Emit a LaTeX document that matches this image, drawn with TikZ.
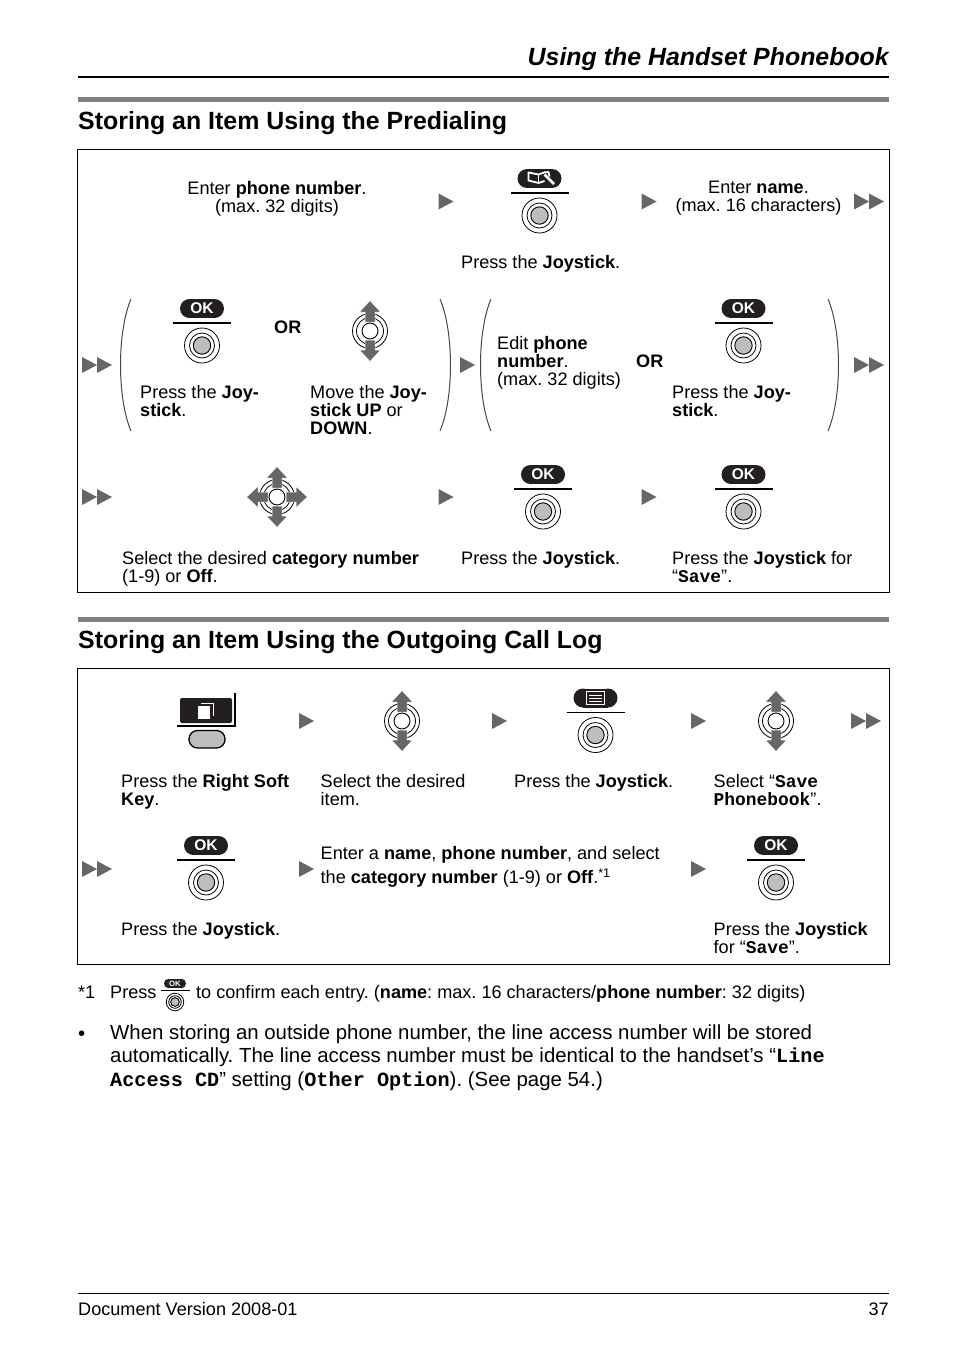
\documentclass[tikz,border=0pt]{standalone}
\usepackage{fontspec}
\setmainfont{Liberation Sans}
\setmonofont[Scale=.99]{Liberation Mono}
\usetikzlibrary{positioning}
\frenchspacing
\newcommand\scrtext[1]{\texttt{\bfseries #1}}
\definecolor{keydark}{HTML}{231F20}
\definecolor{arrowgray}{HTML}{666666}
\definecolor{bargray}{HTML}{808080}
\definecolor{keygray}{HTML}{BDBDBD}
\tikzset{
  pagetext/.style={font=\fontsize{18.1}{18}\selectfont, inner sep=0, align=left, anchor=north west,
      execute at begin node=\rule{0pt}{14pt}},
  centertext/.style={pagetext, align=center, anchor=north},
  ortext/.style={pagetext, font=\fontsize{18.1}{18}\bfseries\selectfont},
  bartitle/.style={font=\fontsize{24.9}{28}\bfseries\selectfont, inner sep=0, anchor=base west},
  bodytext/.style={pagetext, font=\fontsize{20.4}{23.4}\selectfont},
  framebox/.style={draw=black, line width=.8pt},
  keypill/.pic={
      \fill [keydark] (-12.5,0) circle (9.5);
      \fill [keydark] (12.5,0) circle (9.5);
      \fill [keydark] (-12.5,-9.5) rectangle (12.5,9.5);
    },
  nexttri/.pic={
      \fill [arrowgray] (-7.5,-8) -- (7.5,0) -- (-7.5,8) -- cycle;
    },
  nextdouble/.pic={
      \fill [arrowgray] (-15,-8) -- (0,0) -- (-15,8) -- cycle;
      \fill [arrowgray] (0,-8) -- (15,0) -- (0,8) -- cycle;
    },
  joybtn/.pic={
      \draw [line width=.8pt] (0,0) circle (17.5);
      \draw [line width=.8pt] (0,0) circle (12.5);
      \draw [line width=.9pt, fill=keygray] (0,0) circle (8.7);
    },
  softline/.pic={
      \draw [line width=1.3pt] (-29,14.5) -- (29,14.5);
      \pic at (0,37) {joybtn};
    },
  okkey/.pic={
      \pic at (0,0) {keypill};
      \node [white, font=\fontsize{15.5}{15.5}\bfseries\selectfont, inner sep=0, transform shape] (-oklabel) at (0,0) {OK};
      \pic at (0,0) {softline};
    },
  bookkey/.pic={
      \pic at (0,0) {keypill};
      \draw [white, line width=1.8pt, line join=round] (6,-6.5) -- (-1,-4) -- (-11,-6) -- (-11,2) -- (-1,4.5) -- (5,2.5);
      \draw [white, line width=1.6pt] (-1,-4) -- (-1,4.5);
      \draw [white, line width=1.8pt, line join=round] (5,-6) -- (9,-6.5) -- (10,-2);
      \draw [white, line width=2.6pt] (5,-4) -- (14.5,5.5);
      \pic at (0,0) {softline};
    },
  menukey/.pic={
      \pic at (0,0) {keypill};
      \draw [white, fill=keydark, line width=1.3pt] (-9,-6.5) rectangle (9,6.5);
      \foreach \Row in {-2.5,0.5,3.5}{
          \draw [white, line width=.9pt] (-6.5,\Row) -- (6.5,\Row);
        }
      \pic at (0,0) {softline};
    },
  joyshaft/.pic={
      \fill [arrowgray, draw=white, line width=.5pt] (-5,-9) -- (-5,-19) -- (-10.5,-19) -- (0,-30.5) -- (10.5,-19) -- (5,-19) -- (5,-9) -- cycle;
    },
  joyrings/.pic={
      \draw [line width=.8pt] (0,0) circle (17.5);
      \draw [line width=.8pt] (0,0) circle (13.5);
    },
  joyupdown/.pic={
      \pic at (0,0) {joyrings};
      \pic at (0,0) {joyshaft};
      \pic [rotate=180] at (0,0) {joyshaft};
      \draw [line width=.9pt, fill=white] (0,0) circle (8);
    },
  joyall/.pic={
      \pic at (0,0) {joyrings};
      \foreach \Turn in {0,90,180,270}{
          \pic [rotate=\Turn] at (0,0) {joyshaft};
        }
      \draw [line width=.9pt, fill=white] (0,0) circle (8);
    },
}

\begin{document}
\begin{tikzpicture}[x=1pt, y=-1pt]
      \useasboundingbox (0,0) rectangle (954,1352);

      \node [font=\fontsize{24.9}{28}\bfseries\itshape\selectfont, inner sep=0, anchor=base east] (pagehead) at (889,65) {Using the Handset Phonebook};
      \draw [line width=1.6pt] (78,77) -- (889,77);

      \fill [bargray] (78,97) rectangle (889,102);
      \node [bartitle] (titleone) at (78,129) {Storing an Item Using the Predialing};
      \draw [framebox] (77.5,149.5) rectangle (889,592);

      \node [centertext] (entnumber) at (277,181) {Enter \textbf{phone number}.\\(max. 32 digits)};
      \node [pagetext] (pressone) at (461,254) {Press the \textbf{Joystick}.};
      \node [centertext] (entname) at (758.5,181) {Enter \textbf{name}.\\(max. 16 characters)};

      \node [pagetext] (pressjoya) at (140,385) {Press the \textbf{Joy-}\\\textbf{stick}.};
      \node [ortext] (orone) at (274,319) {OR};
      \node [pagetext] (movejoy) at (310,385) {Move the \textbf{Joy-}\\\textbf{stick UP} or\\\textbf{DOWN}.};
      \node [pagetext] (editnumber) at (497,336) {Edit \textbf{phone}\\\textbf{number}.\\(max. 32 digits)};
      \node [ortext] (ortwo) at (636,353) {OR};
      \node [pagetext] (pressjoyb) at (672,385) {Press the \textbf{Joy-}\\\textbf{stick}.};

      \node [pagetext] (selcategory) at (122,551) {Select the desired \textbf{category number}\\(1-9) or \textbf{Off}.};
      \node [pagetext] (presstwo) at (461,550) {Press the \textbf{Joystick}.};
      \node [pagetext] (pressfor) at (672,551) {Press the \textbf{Joystick} for\\“\scrtext{Save}”.};

      \foreach \Point in {(446,201.5), (649,201.5), (467.5,365), (446,497), (649,497)}{
          \pic at \Point {nexttri};
        }
      \foreach \Point in {(869,201.5), (97,365), (869,365), (97,497)}{
          \pic at \Point {nextdouble};
        }
      \pic at (539.5,178.5) {bookkey};
      \foreach \Point in {(202,308.5), (743.5,308.5), (543,474.5), (743.5,474.5)}{
          \pic at \Point {okkey};
        }
      \pic at (370,331) {joyupdown};
      \pic at (277,497) {joyall};

      % brackets round the choices
      \draw [line width=1pt, arrowgray!70!black] (131,299) .. controls (117,332) and (117,398) .. (131,431);
      \draw [line width=1pt, arrowgray!70!black] (440,299) .. controls (454,332) and (454,398) .. (440,431);
      \draw [line width=1pt, arrowgray!70!black] (491,299) .. controls (477,332) and (477,398) .. (491,431);
      \draw [line width=1pt, arrowgray!70!black] (828,299) .. controls (842,332) and (842,398) .. (828,431);

      \fill [bargray] (78,617) rectangle (889,622);
      \node [bartitle] (titletwo) at (78,648) {Storing an Item Using the Outgoing Call Log};
      \draw [framebox] (77.5,668.5) rectangle (889,964);

      \node [pagetext] (pressright) at (121,774) {Press the \textbf{Right Soft}\\\textbf{Key}.};
      \node [pagetext] (selitem) at (320.5,774) {Select the desired\\item.};
      \node [pagetext] (pressthree) at (514,773) {Press the \textbf{Joystick}.};
      \node [pagetext] (selsave) at (713.5,774) {Select “\scrtext{Save}\\\scrtext{Phonebook}”.};
      \node [pagetext] (pressfour) at (121,921) {Press the \textbf{Joystick}.};
      \node [pagetext] (entall) at (320.5,846) {Enter a \textbf{name}, \textbf{phone number}, and select\\[4.5pt]the \textbf{category number} (1-9) or \textbf{Off}.\textsuperscript{*1}};
      \node [pagetext] (pressend) at (713.5,922) {Press the \textbf{Joystick}\\for “\scrtext{Save}”.};

      % softkey with its display
      \fill [keydark, rounded corners=2pt] (180,698) rectangle (232,723);
      \fill [white] (198,706) rectangle (210,719);
      \draw [white, line width=1pt] (201,703.5) -- (213.5,703.5) -- (213.5,716);
      \draw [line width=1.3pt] (177,726) -- (235,726) -- (235,693);
      \draw [line width=1.3pt, fill=keygray, rounded corners=8.5pt] (189,730.5) rectangle (225,748);

      \foreach \Point in {(306.5,721), (499.5,721), (698.5,721), (306.5,869), (698.5,869)}{
          \pic at \Point {nexttri};
        }
      \foreach \Point in {(866,721), (97,869)}{
          \pic at \Point {nextdouble};
        }
      \foreach \Point in {(402,721), (776,721)}{
          \pic at \Point {joyupdown};
        }
      \pic at (595.5,698) {menukey};
      \foreach \Point in {(206,845.5), (776,845.5)}{
          \pic at \Point {okkey};
        }

      \node [pagetext] (notemark) at (78,984) {*1};
      \node [pagetext] (notepress) at (110,984) {Press};
      \pic [scale=.5, transform shape] at (175,983.5) {okkey};
      \node [pagetext] (notetext) at (196,984) {to confirm each entry. (\textbf{name}: max. 16 characters/\textbf{phone number}: 32 digits)};

      \node [bodytext] (bulletmark) at (78,1026.5) {•};
      \node [bodytext] (bullettext) at (110,1024.5) {When storing an outside phone number, the line access number will be stored\\automatically. The line access number must be identical to the handset’s “\scrtext{Line}\\\scrtext{Access CD}” setting (\scrtext{Other Option}). (See page 54.)};

      \draw [line width=.8pt] (78,1293) -- (889,1293);
      \node [pagetext] (footleft) at (78,1301) {Document Version 2008-01};
      \node [pagetext, anchor=north east] (footright) at (889,1301) {37};
    \end{tikzpicture}
\end{document}
